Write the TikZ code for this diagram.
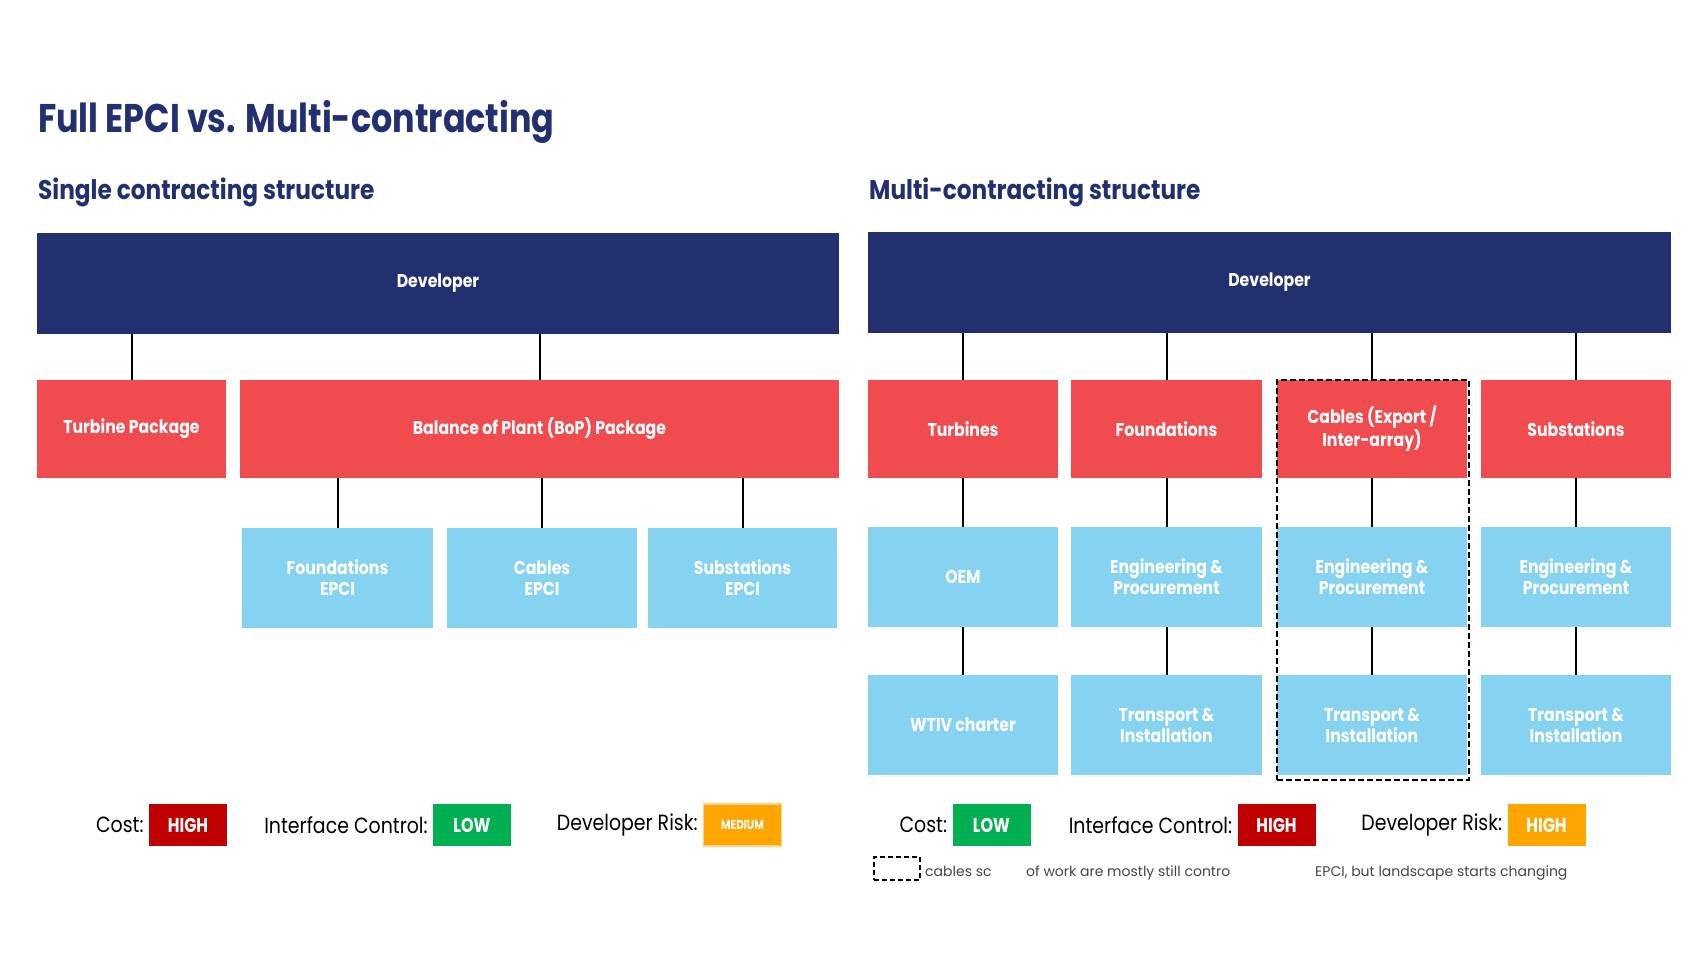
\documentclass[tikz,border=0pt]{standalone}
\usepackage{fontspec}
\setmainfont{Poppins}
\newfontfamily\ttlfont[FakeStretch=0.835]{Poppins}
\newfontfamily\subfont[FakeStretch=0.86]{Poppins}
\newfontfamily\labfont[FakeStretch=0.86]{Poppins}
\newfontfamily\lgfont[FakeStretch=0.8]{Poppins}
\newfontfamily\boxfont[FakeStretch=0.85]{Poppins}
\definecolor{navy}{RGB}{34,48,112}
\definecolor{pkgred}{RGB}{240,76,80}
\definecolor{skyblue}{RGB}{133,211,240}
\definecolor{lgred}{RGB}{192,0,0}
\definecolor{lggreen}{RGB}{0,176,80}
\definecolor{lgorange}{RGB}{255,165,0}
\definecolor{notegray}{RGB}{70,70,70}
\tikzset{
  boxbase/.style={inner sep=0pt, align=center, text=white, font=\boxfont\bfseries\fontsize{18.5}{21}\selectfont},
  devbox/.style={boxbase, fill=navy, minimum width=802, minimum height=101},
  pkgbox/.style={boxbase, fill=pkgred, minimum height=98},
  subbox/.style={boxbase, fill=skyblue, minimum height=100},
  conn/.style={draw=black, line width=2pt},
  lgbox/.style={inner sep=0pt, minimum width=78, minimum height=42, text=white, font=\lgfont\bfseries\fontsize{20}{24}\selectfont},
  lgtext/.style={anchor=east, inner sep=0pt, text=black, font=\labfont\fontsize{22}{26}\selectfont},
  groupbox/.style={draw=black, dash pattern=on 6pt off 3pt, line width=1.6pt, inner sep=0pt},
  notetext/.style={anchor=base west, inner sep=0pt, text=notegray, font=\fontsize{14}{17}\selectfont}
}
\begin{document}
\begin{tikzpicture}[x=1pt,y=-1pt]
\useasboundingbox[fill=white] (0,0) rectangle (1701,957);

% titles
\node[anchor=base west, inner sep=0pt, text=navy, font=\ttlfont\bfseries\fontsize{40}{48}\selectfont] (title) at (38,133) {Full EPCI vs. Multi-contracting};
\node[anchor=base west, inner sep=0pt, text=navy, font=\subfont\bfseries\fontsize{27}{32}\selectfont] (subl) at (38,200) {Single contracting structure};
\node[anchor=base west, inner sep=0pt, text=navy, font=\subfont\bfseries\fontsize{27}{32}\selectfont] (subr) at (869,200) {Multi-contracting structure};

% ---------- left structure ----------
\node[devbox] (dev1) at (438,283.5) {Developer};
\node[pkgbox, minimum width=189] (tp) at (131.5,429) {Turbine Package};
\node[pkgbox, minimum width=599] (bop) at (539.5,429) {Balance of Plant (BoP) Package};
\node[subbox, minimum width=191] (fe) at (337.5,578) {Foundations\\EPCI};
\node[subbox, minimum width=190] (ce) at (542,578) {Cables\\EPCI};
\node[subbox, minimum width=189] (se) at (742.5,578) {Substations\\EPCI};

\draw[conn] (tp.north) -- (tp.north |- dev1.south);
\draw[conn] (bop.north) -- (bop.north |- dev1.south);
\draw[conn] (fe.north) -- (fe.north |- bop.south);
\draw[conn] (ce.north) -- (ce.north |- bop.south);
\draw[conn] (se.north) -- (se.north |- bop.south);

% ---------- right structure ----------
\node[devbox, minimum width=803] (dev2) at (1269.5,282.5) {Developer};
\node[pkgbox, minimum width=190] (tur) at (963,429) {Turbines};
\node[pkgbox, minimum width=191] (fou) at (1166.5,429) {Foundations};
\node[pkgbox, minimum width=190] (cab) at (1372,429) {Cables (Export /\\Inter-array)};
\node[pkgbox, minimum width=190] (sst) at (1576,429) {Substations};

\node[subbox, minimum width=190] (oem) at (963,577) {OEM};
\node[subbox, minimum width=191] (epa) at (1166.5,577) {Engineering \&\\Procurement};
\node[subbox, minimum width=190] (epb) at (1372,577) {Engineering \&\\Procurement};
\node[subbox, minimum width=190] (epc) at (1576,577) {Engineering \&\\Procurement};

\node[subbox, minimum width=190] (wtiv) at (963,725) {WTIV charter};
\node[subbox, minimum width=191] (tia) at (1166.5,725) {Transport \&\\Installation};
\node[subbox, minimum width=190] (tib) at (1372,725) {Transport \&\\Installation};
\node[subbox, minimum width=190] (tic) at (1576,725) {Transport \&\\Installation};

\foreach \p in {tur,fou,cab,sst} \draw[conn] (\p.north) -- (\p.north |- dev2.south);
\draw[conn] (oem.north) -- (tur.south);
\draw[conn] (epa.north) -- (fou.south);
\draw[conn] (epb.north) -- (cab.south);
\draw[conn] (epc.north) -- (sst.south);
\draw[conn] (wtiv.north) -- (oem.south);
\draw[conn] (tia.north) -- (epa.south);
\draw[conn] (tib.north) -- (epb.south);
\draw[conn] (tic.north) -- (epc.south);

\node[groupbox, minimum width=192, minimum height=400] (cabgroup) at (1373,580) {};

% ---------- legends ----------
\node[lgbox, fill=lgred] (lc1) at (188,825) {HIGH};
\node[lgtext] (lc1t) at ([xshift=-5pt]lc1.west) {Cost:};
\node[lgbox, fill=lggreen] (li1) at (472,825) {LOW};
\node[lgtext] (li1t) at ([xshift=-5pt]li1.west) {Interface Control:};
\node[lgbox, fill=lgorange, draw={rgb,255:red,255;green,210;blue,140}, line width=1.5pt, font=\lgfont\bfseries\fontsize{13}{16}\selectfont] (lr1) at (742.5,825) {MEDIUM};
\node[lgtext] (lr1t) at ([xshift=-5pt]lr1.west) {Developer Risk:};

\node[lgbox, fill=lggreen] (lc2) at (991.5,825) {LOW};
\node[lgtext] (lc2t) at ([xshift=-5pt]lc2.west) {Cost:};
\node[lgbox, fill=lgred] (li2) at (1276.5,825) {HIGH};
\node[lgtext] (li2t) at ([xshift=-5pt]li2.west) {Interface Control:};
\node[lgbox, fill=lgorange] (lr2) at (1546.5,825) {HIGH};
\node[lgtext] (lr2t) at ([xshift=-5pt]lr2.west) {Developer Risk:};

% ---------- footnote ----------
\node[groupbox, line width=2pt, dash pattern=on 5pt off 3pt, minimum width=46, minimum height=23] (notebox) at (897,868.5) {};
\node[notetext] (n1) at (925,876) {cables sc};
\node[notetext] (n2) at (1026,876) {of work are mostly still contro};
\node[notetext] (n3) at (1315,876) {EPCI, but landscape starts changing};
\end{tikzpicture}
\end{document}
